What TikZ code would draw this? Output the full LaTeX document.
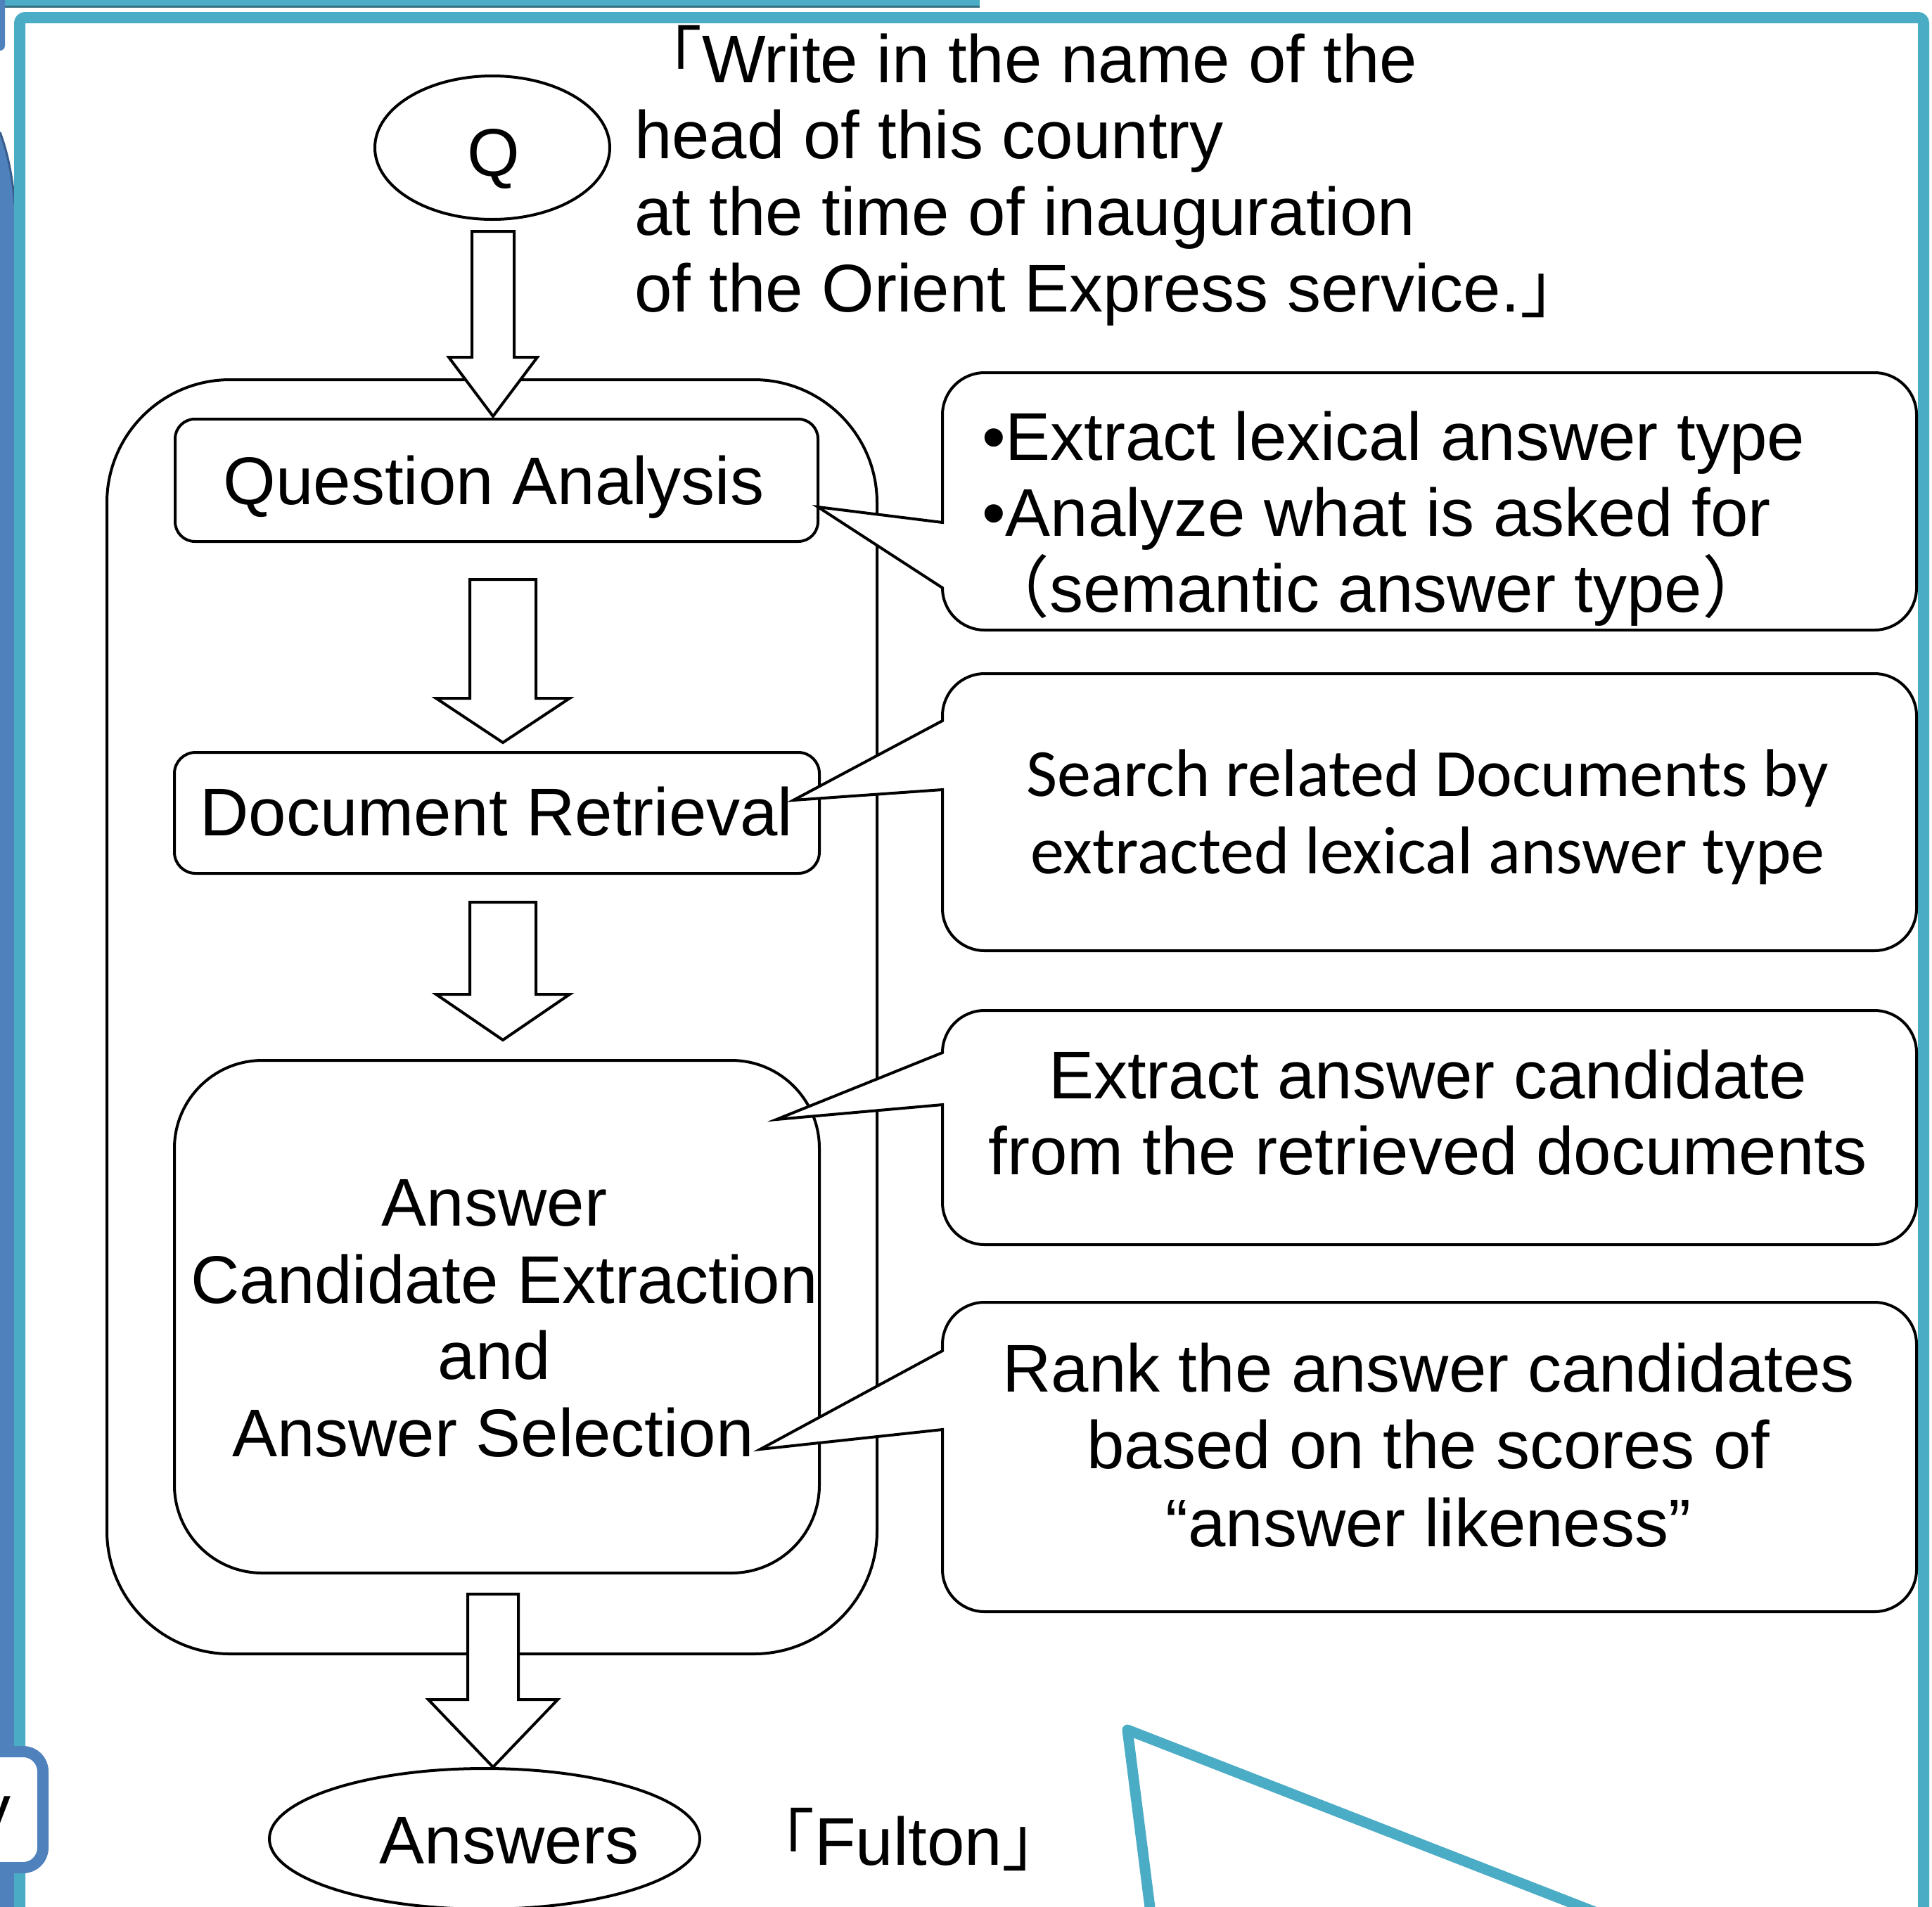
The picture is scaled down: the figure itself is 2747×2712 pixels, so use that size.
\documentclass[tikz,border=0pt]{standalone}
\usepackage{fontspec}
\setmainfont{Liberation Sans}
\newfontfamily\cjkfont{Noto Sans CJK JP}
\newfontfamily\calfont{Carlito}
\usetikzlibrary{shapes.geometric,calc}
\definecolor{tealC}{RGB}{75,172,198}
\definecolor{tealD}{RGB}{52,110,128}
\definecolor{blueC}{RGB}{79,129,189}
\definecolor{blueD}{RGB}{56,93,138}
\tikzset{
  ln/.style={line width=4pt, draw=black},
  box/.style={ln, fill=white, inner sep=0pt, outer sep=0pt},
  barrow/.style={ln, fill=white, line join=miter},
  callbox/.style={ln, fill=white, line join=miter},
  txt/.style={inner sep=0pt, outer sep=0pt, font=\fontsize{96}{109}\selectfont},
}
% block arrow: tail, tip, half shaft, half head, head length
\newcommand\blockarrow[5]{%
  \draw[barrow] let \p1=(#1), \p2=(#2) in
    (\x1-#3pt,\y1) -- (\x1-#3pt,\y2+#5pt) -- (\x1-#4pt,\y2+#5pt) -- (\x1,\y2)
    -- (\x1+#4pt,\y2+#5pt) -- (\x1+#3pt,\y2+#5pt) -- (\x1+#3pt,\y1) -- cycle;}
% callout: tip x, tip y, upper attach y, lower attach y, top, bottom
\newcommand\callout[6]{%
  \draw[callbox] (#1,#2) -- (1340,#3) -- (1340,#5+60)
    arc[start angle=180,end angle=90,radius=60pt] -- (2665,#5)
    arc[start angle=90,end angle=0,radius=60pt] -- (2725,#6-60)
    arc[start angle=0,end angle=-90,radius=60pt] -- (1400,#6)
    arc[start angle=-90,end angle=-180,radius=60pt] -- (1340,#4) -- cycle;}
\begin{document}
\begin{tikzpicture}[x=1pt,y=-1pt]
\useasboundingbox (0,0) rectangle (2747,2712);
\fill[white] (0,0) rectangle (2747,2712);
% slide surroundings
\fill[tealC] (7,-20) rectangle (1393,9);
\fill[tealD] (7,8) rectangle (1393,11);
\fill[blueC, rounded corners=7pt] (-20,-20) rectangle (7,72);
\fill[blueC] (0,188) .. controls (10,215) and (17,245) .. (21,290) -- (21,2800) -- (0,2800) -- cycle;
\draw[blueD, line width=3pt] (0,188) .. controls (10,215) and (17,245) .. (21,290);
\draw[tealC, line width=16pt, rounded corners=8pt] (28,25) rectangle (2735,2800);
\draw[blueC, line width=16pt, fill=white, rounded corners=28pt] (-60,2491) rectangle (61,2656);
\node[txt, anchor=base west] (yfrag) at (-32,2605) {y};
\draw[tealC, line width=15pt, line join=round] (1641,2760) -- (1603,2460) -- (2373,2760);
% container
\node[box, rounded corners=175pt, minimum width=1095pt, minimum height=1812pt] (cont) at (699.5,1446) {};
% shapes
\node[box, ellipse, minimum width=334pt, minimum height=204pt] (q) at (700,210) {};
\node[box, rounded corners=28pt, minimum width=914pt, minimum height=174pt] (qa) at (706,683) {};
\node[box, rounded corners=30pt, minimum width=917pt, minimum height=172pt] (dr) at (706.5,1156) {};
\node[box, rounded corners=125pt, minimum width=917pt, minimum height=729pt] (ace) at (706.5,1872.5) {};
\node[box, ellipse, minimum width=612pt, minimum height=200pt] (ans) at (689,2615) {};
% block arrows
\blockarrow{$(q.south)+(1,17)$}{$(qa.north)+(-5,-4)$}{30}{63}{84}
\blockarrow{$(qa.south)+(9,54)$}{$(dr.north)+(8.5,-14)$}{47}{95}{63}
\blockarrow{$(dr.south)+(8.5,41)$}{$(ace.north)+(8.5,-29)$}{47}{95}{65}
\blockarrow{$(ace.south)+(-5.5,30)$}{$(ans.north)+(12,-2)$}{36}{92}{96}
% labels
\node[txt, anchor=base] (qt) at (702,250) {Q};
\node[txt, anchor=base] (qat) at (702,717) {Question Analysis};
\node[txt, anchor=base] (drt) at (706,1188) {Document Retrieval};
\node[txt, anchor=base] (acet1) at (703,1743) {Answer};
\node[txt, anchor=base] (acet2) at (717,1853) {Candidate Extraction};
\node[txt, anchor=base] (acet3) at (703,1961) {and};
\node[txt, anchor=base] (acet4) at (701,2071) {Answer Selection};
\node[txt, anchor=base] (anst) at (724,2650) {Answers};
\node[txt, anchor=base west] (fult) at (1062,2652) {{\cjkfont 「}Fulton{\cjkfont 」}};
% callouts
\callout{1163}{721}{743}{836}{530}{896}
\callout{1128}{1138}{1025}{1123}{958}{1352}
\callout{1104}{1592}{1497}{1571}{1437}{1770}
\callout{1081}{2061}{1921}{2033}{1852}{2292}
\node[txt, anchor=base west] (c1a) at (1396,654) {•Extract lexical answer type};
\node[txt, anchor=base west] (c1b) at (1396,762) {•Analyze what is asked for};
\node[txt, anchor=base west] (c1c) at (1396,870) {{\cjkfont （}semantic answer type{\cjkfont ）}};
\node[txt, anchor=base] (c2a) at (2030,1132) {\calfont Search related Documents by};
\node[txt, anchor=base] (c2b) at (2030,1242) {\calfont extracted lexical answer type};
\node[txt, anchor=base] (c3a) at (2030,1562) {Extract answer candidate};
\node[txt, anchor=base] (c3b) at (2030,1670) {from the retrieved documents};
\node[txt, anchor=base] (c4a) at (2031,1979) {Rank the answer candidates};
\node[txt, anchor=base] (c4b) at (2031,2088) {based on the scores of};
\node[txt, anchor=base] (c4c) at (2031,2199) {“answer likeness”};
% question
\node[txt, anchor=base west] (qq1) at (902,117) {{\cjkfont 「}Write in the name of the};
\node[txt, anchor=base west] (qq2) at (902,225) {head of this country};
\node[txt, anchor=base west] (qq3) at (902,334) {at the time of inauguration};
\node[txt, anchor=base west] (qq4) at (902,443) {of the Orient Express service.{\cjkfont 」}};
\end{tikzpicture}
\end{document}
